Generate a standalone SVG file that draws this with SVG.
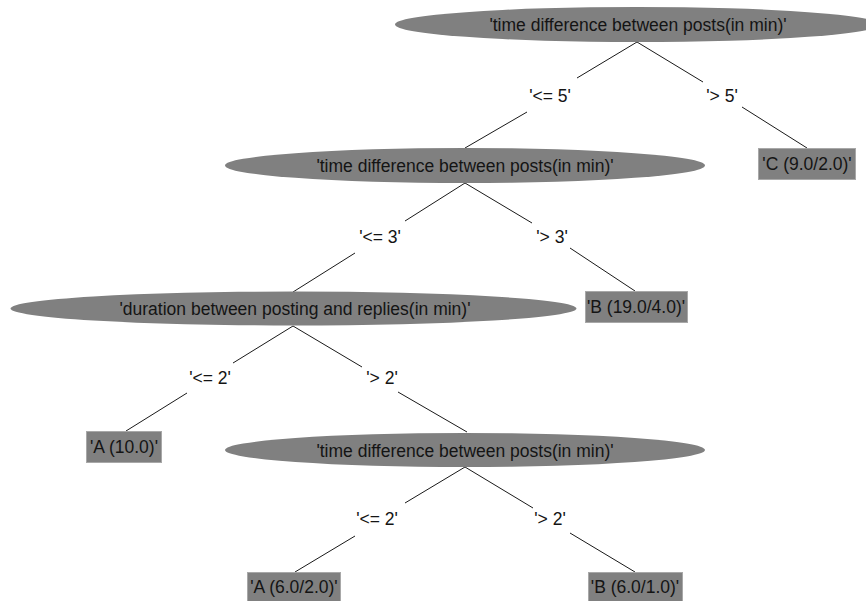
<svg xmlns="http://www.w3.org/2000/svg" width="866" height="601" viewBox="0 0 866 601">
<style>
  .node ellipse { fill: #808080; stroke: none; }
  .node rect { fill: #808080; stroke: #a8a8a8; stroke-width: 1; }
  text { font-family: "Liberation Sans", Arial, sans-serif; font-size: 17.5px; fill: #141414; text-anchor: middle; }
  .edges line { stroke: #1a1a1a; stroke-width: 1; }
</style>
<rect x="0" y="0" width="866" height="601" fill="#ffffff"/>

<g class="edges" id="connectors">
  <line x1="637" y1="42" x2="577" y2="78"/>
  <line x1="527" y1="112" x2="465" y2="148"/>
  <line x1="637" y1="42" x2="703" y2="82"/>
  <line x1="742" y1="107" x2="807" y2="148"/>
  <line x1="465" y1="183" x2="405" y2="221"/>
  <line x1="355" y1="253" x2="293" y2="292"/>
  <line x1="465" y1="183" x2="532" y2="223"/>
  <line x1="570" y1="248" x2="635" y2="291"/>
  <line x1="293" y1="326" x2="233" y2="363"/>
  <line x1="187" y1="393" x2="126" y2="431"/>
  <line x1="293" y1="326" x2="362" y2="367"/>
  <line x1="398" y1="392" x2="467" y2="432"/>
  <line x1="465" y1="467" x2="405" y2="503"/>
  <line x1="355" y1="536" x2="295" y2="572"/>
  <line x1="465" y1="467" x2="533" y2="508"/>
  <line x1="570" y1="533" x2="635" y2="572"/>
  <text x="550" y="102">'&lt;= 5'</text>
  <text x="722" y="102">'&gt; 5'</text>
  <text x="380" y="243">'&lt;= 3'</text>
  <text x="552" y="243">'&gt; 3'</text>
  <text x="210" y="384">'&lt;= 2'</text>
  <text x="382" y="384">'&gt; 2'</text>
  <text x="377" y="525">'&lt;= 2'</text>
  <text x="550" y="525">'&gt; 2'</text>
</g>

<g class="node" id="n0">
  <ellipse cx="637" cy="24.5" rx="242" ry="17.5"/>
  <text x="638" y="31">'time difference between posts(in min)'</text>
</g>
<g class="node" id="n1">
  <ellipse cx="465" cy="165.5" rx="240" ry="17.5"/>
  <text x="465" y="172">'time difference between posts(in min)'</text>
</g>
<g class="node" id="leafC">
  <rect x="758.5" y="148.5" width="97" height="31"/>
  <text x="807" y="170">'C (9.0/2.0)'</text>
</g>
<g class="node" id="n2">
  <ellipse cx="293.5" cy="308.5" rx="283" ry="17"/>
  <text x="295" y="315">'duration between posting and replies(in min)'</text>
</g>
<g class="node" id="leafB19">
  <rect x="585.5" y="291.5" width="102" height="31"/>
  <text x="636" y="313">'B (19.0/4.0)'</text>
</g>
<g class="node" id="leafA10">
  <rect x="86.5" y="431.5" width="75" height="31"/>
  <text x="124" y="453">'A (10.0)'</text>
</g>
<g class="node" id="n3">
  <ellipse cx="465" cy="450" rx="240" ry="17"/>
  <text x="465" y="456.5">'time difference between posts(in min)'</text>
</g>
<g class="node" id="leafA6">
  <rect x="247.5" y="572.5" width="93" height="31"/>
  <text x="294" y="593">'A (6.0/2.0)'</text>
</g>
<g class="node" id="leafB6">
  <rect x="588.5" y="572.5" width="94" height="31"/>
  <text x="635" y="593">'B (6.0/1.0)'</text>
</g>
</svg>
